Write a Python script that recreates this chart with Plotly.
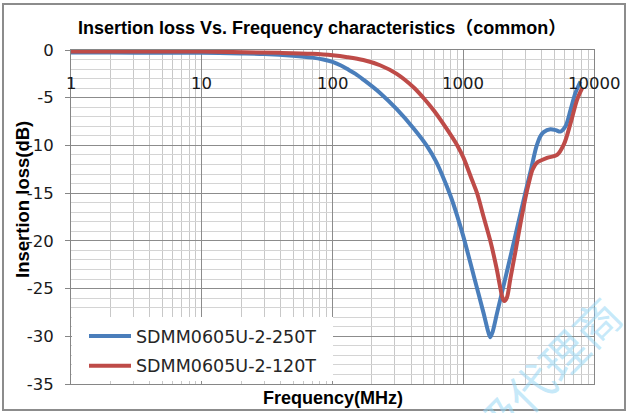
import numpy as np
import plotly.graph_objects as go

# ---- data ----
freq_250T = [1, 2, 5, 10, 20, 30, 50, 70, 85, 100, 115, 130, 150, 172, 231, 310, 416, 530,
             620, 700, 800, 900, 1000, 1200, 1432, 1550, 1610, 1680, 1811, 2100, 2450, 2980,
             3300, 3630, 3900, 4120, 4640, 5100, 5540, 6050, 6610, 7210, 7880]
loss_250T = [-0.25, -0.27, -0.3, -0.3, -0.36, -0.42, -0.6, -0.8, -1.0, -1.25, -1.6, -2.0, -2.5,
             -3.1, -4.5, -6.2, -8.2, -10.1, -11.7, -13.3, -15.3, -17.4, -19.5, -23.6, -27.6,
             -29.5, -30.1, -29.5, -27.6, -23.9, -20.0, -15.0, -12.5, -10.1, -9.0, -8.6, -8.3,
             -8.4, -8.55, -8.0, -6.3, -4.5, -3.3]

freq_120T = [1, 10, 40, 70, 100, 130, 172, 231, 310, 416, 495, 600, 750, 900, 1005, 1165,
             1275, 1432, 1610, 1800, 1925, 2000, 2060, 2150, 2290, 2500, 2730, 2990, 3166,
             3400, 3672, 4375, 5220, 5880, 6610, 7430, 8120]
loss_120T = [-0.15, -0.17, -0.3, -0.4, -0.55, -0.75, -1.05, -1.6, -2.5, -3.9, -5.0, -6.4, -8.3,
             -10.0, -11.3, -13.6, -15.0, -17.5, -20.0, -22.9, -25.0, -26.0, -26.3, -26.0, -24.0,
             -21.2, -18.3, -15.5, -14.0, -12.5, -11.8, -11.3, -11.0, -9.9, -7.7, -5.2, -4.0]

series_names = ["SDMM0605U-2-250T", "SDMM0605U-2-120T"]
x_tick_vals = [1, 10, 100, 1000, 10000]
x_tick_labels = ["1", "10", "100", "1000", "10000"]
y_tick_vals = [0, -5, -10, -15, -20, -25, -30, -35]
y_tick_labels = ["0", "-5", "-10", "-15", "-20", "-25", "-30", "-35"]

title_text = "Insertion loss Vs. Frequency characteristics（common）"
x_title = "Frequency(MHz)"
y_title = "Insertion loss(dB)"
watermark = "级代理商"

BLUE = "#4a7ebb"
RED = "#be4b48"
LBL_FONT = "DejaVu Sans, Noto Sans CJK SC"
BOLD_FONT = "Liberation Sans, Noto Sans CJK SC"

fig = go.Figure()
fig.add_trace(go.Scatter(x=freq_250T, y=loss_250T, mode="lines", name=series_names[0],
                         legendgroup="g1",
                         line=dict(color=BLUE, width=4, shape="spline", smoothing=0.9)))
fig.add_trace(go.Scatter(x=freq_120T, y=loss_120T, mode="lines", name=series_names[1],
                         legendgroup="g2",
                         line=dict(color=RED, width=4, shape="spline", smoothing=0.9)))

W, H = 628, 413
L, R, T, B = 71, 34, 50, 29
pw, ph = W - L - R, H - T - B

def px(xp):
    return (xp - L) / pw

def py(yp):
    return (H - B - yp) / ph

fig.update_layout(
    width=W, height=H,
    margin=dict(l=L, r=R, t=T, b=B, pad=0),
    paper_bgcolor="white", plot_bgcolor="white",
    showlegend=True,
    legend=dict(x=px(84), y=py(318), xanchor="left", yanchor="top",
                bgcolor="rgba(0,0,0,0)", font=dict(family=LBL_FONT, size=17.5, color="#262626"),
                itemwidth=42, tracegroupgap=4),
    xaxis=dict(type="log", range=[0, 4], dtick=1, showticklabels=False,
               showgrid=True, gridcolor="#8c8c8c", gridwidth=1,
               minor=dict(dtick="D1", showgrid=True, gridcolor="#c8c8c8", gridwidth=1),
               showline=True, linecolor="#868686", linewidth=1, mirror=True,
               zeroline=False, ticks=""),
    yaxis=dict(range=[-35, 0], tickvals=y_tick_vals, ticktext=y_tick_labels,
               showgrid=True, gridcolor="#8c8c8c", gridwidth=1,
               minor=dict(dtick=1, showgrid=True, gridcolor="#d4d4d4", gridwidth=1),
               ticks="outside", ticklen=5, tickcolor="#868686",
               showline=True, linecolor="#868686", linewidth=1, mirror=True,
               zeroline=False, ticklabelstandoff=8,
               tickfont=dict(family=LBL_FONT, size=16.5, color="#1a1a1a")),
)

# white legend box hiding the grid (curves never pass through this corner)
fig.add_shape(type="rect", xref="paper", yref="paper",
              x0=px(72), x1=px(333), y0=py(381), y1=py(317),
              fillcolor="white", line=dict(width=0), layer="above")

# outer chart frame
fig.add_shape(type="rect", xref="paper", yref="paper",
              x0=px(3), x1=px(625), y0=py(410), y1=py(4),
              line=dict(color="#8c8c8c", width=2), fillcolor="rgba(0,0,0,0)")

# x tick labels inside plot just under the 0 line
for v, lab in zip(x_tick_vals, x_tick_labels):
    fig.add_annotation(x=np.log10(v), y=0, xref="x", yref="y", text=lab, showarrow=False,
                       xanchor="center", yanchor="middle", yshift=-33,
                       font=dict(family=LBL_FONT, size=16.5, color="#1a1a1a"))

fig.add_annotation(x=px(322), y=py(28), xref="paper", yref="paper", text="<b>%s</b>" % title_text,
                   showarrow=False, xanchor="center", yanchor="middle",
                   font=dict(family=BOLD_FONT, size=18, color="#000000"))
fig.add_annotation(x=px(333), y=py(398), xref="paper", yref="paper", text="<b>%s</b>" % x_title,
                   showarrow=False, xanchor="center", yanchor="middle",
                   font=dict(family=BOLD_FONT, size=18, color="#000000"))
fig.add_annotation(x=px(22), y=py(200), xref="paper", yref="paper", text="<b>%s</b>" % y_title,
                   showarrow=False, xanchor="center", yanchor="middle", textangle=-90,
                   font=dict(family=BOLD_FONT, size=18.5, color="#000000"))

fig.add_annotation(x=px(546), y=py(370), xref="paper", yref="paper", text=watermark,
                   showarrow=False, xanchor="center", yanchor="middle", textangle=-45,
                   font=dict(family="Noto Sans CJK SC", size=46, color="rgba(150,215,245,0.55)"))

fig.write_html("out.html", config={"displayModeBar": False},
               post_script="document.body.style.margin='0';")
